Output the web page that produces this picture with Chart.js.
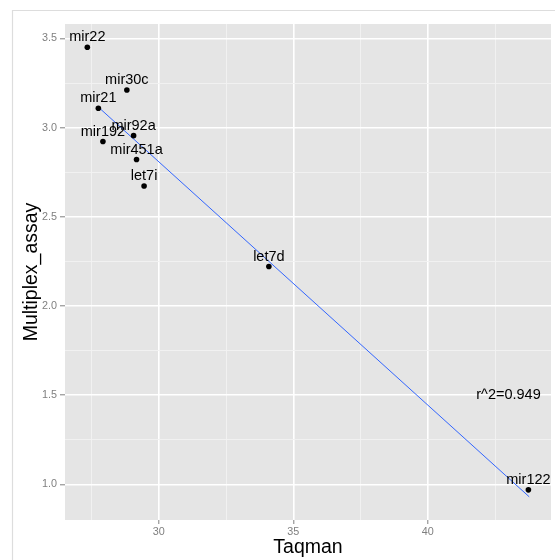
<!DOCTYPE html>
<html>
<head>
<meta charset="utf-8">
<style>
html,body{margin:0;padding:0;background:#ffffff;}
#wrap{width:555px;height:560px;position:relative;}
canvas{display:block;}
</style>
<script src="https://cdn.jsdelivr.net/npm/chart.js@4"></script>
</head>
<body>
<div id="wrap"><canvas id="c" width="555" height="560"></canvas></div>
<script>
// ---- data ----
const genes = ['mir22', 'mir30c', 'mir21', 'mir192', 'mir92a', 'mir451a', 'let7i', 'let7d', 'mir122'];
const taqman = [27.34, 28.81, 27.75, 27.92, 29.06, 29.17, 29.45, 34.09, 43.74];
const multiplex = [3.451, 3.211, 3.109, 2.922, 2.955, 2.821, 2.673, 2.221, 0.969];
// fitted regression line end points
const fitX = [27.75, 43.77];
const fitY = [3.115, 0.930];
// axis ticks
const xTicks = [30, 35, 40];
const xMinor = [27.5, 32.5, 37.5, 42.5];
const yTicks = [1.0, 1.5, 2.0, 2.5, 3.0, 3.5];
const yMinor = [1.25, 1.75, 2.25, 2.75, 3.25];
const xTitle = 'Taqman';
const yTitle = 'Multiplex_assay';
const annotText = 'r^2=0.949';
const annotX = [43.0];
const annotY = [1.5];

const FONT = '"Liberation Sans", Arial, Helvetica, sans-serif';
const isMajorX = v => xTicks.some(t => Math.abs(t - v) < 1e-6);
const isMajorY = v => yTicks.some(t => Math.abs(t - v) < 1e-6);

const decor = {
  id: 'decor',
  beforeDraw(chart) {
    const {ctx, chartArea: a} = chart;
    ctx.save();
    // outer frame
    ctx.strokeStyle = '#DDDDDD';
    ctx.lineWidth = 1.2;
    ctx.beginPath();
    ctx.moveTo(12.5, 560);
    ctx.lineTo(12.5, 10.5);
    ctx.lineTo(555, 10.5);
    ctx.stroke();
    // panel background
    ctx.fillStyle = '#E5E5E5';
    ctx.fillRect(a.left, a.top, a.right - a.left, a.bottom - a.top);
    ctx.restore();
  },
  afterDatasetsDraw(chart) {
    const {ctx} = chart;
    const xs = chart.scales.x, ys = chart.scales.y;
    ctx.save();
    ctx.fillStyle = '#000000';
    ctx.font = '14.5px ' + FONT;
    ctx.textAlign = 'center';
    ctx.textBaseline = 'middle';
    genes.forEach((g, i) => {
      const px = xs.getPixelForValue(taqman[i]);
      const py = ys.getPixelForValue(multiplex[i]);
      ctx.fillText(g, px, py - 10);
    });
    ctx.fillText(annotText, xs.getPixelForValue(annotX[0]), ys.getPixelForValue(annotY[0]));
    ctx.restore();
  },
  afterDraw(chart) {
    const {ctx, chartArea: a} = chart;
    ctx.save();
    ctx.fillStyle = '#000000';
    ctx.font = '19.5px ' + FONT;
    ctx.textAlign = 'center';
    ctx.textBaseline = 'middle';
    ctx.fillText(xTitle, (a.left + a.right) / 2, 548);
    ctx.translate(32, (a.top + a.bottom) / 2);
    ctx.rotate(-Math.PI / 2);
    ctx.fillText(yTitle, 0, 0);
    ctx.restore();
  }
};

new Chart(document.getElementById('c').getContext('2d'), {
  type: 'scatter',
  data: {
    datasets: [
      {
        type: 'line',
        data: fitX.map((x, i) => ({x: x, y: fitY[i]})),
        borderColor: '#3366FF',
        borderWidth: 1,
        pointRadius: 0,
        fill: false,
        order: 2
      },
      {
        data: taqman.map((x, i) => ({x: x, y: multiplex[i]})),
        backgroundColor: '#000000',
        borderColor: '#000000',
        pointRadius: 2.8,
        borderWidth: 0,
        order: 1
      }
    ]
  },
  options: {
    responsive: false,
    animation: false,
    devicePixelRatio: 1,
    layout: {padding: {left: 0, top: 24, right: 3, bottom: 0}},
    plugins: {legend: {display: false}, tooltip: {enabled: false}},
    scales: {
      x: {
        type: 'linear',
        min: 26.51,
        max: 44.58,
        afterBuildTicks: s => { s.ticks = [...xMinor, ...xTicks].sort((a, b) => a - b).map(v => ({value: v})); },
        afterFit: s => { s.height = 40; },
        border: {display: false},
        grid: {
          color: c => isMajorX(c.tick.value) ? '#FFFFFF' : '#F2F2F2',
          lineWidth: c => isMajorX(c.tick.value) ? 1.6 : 0.9,
          tickColor: c => isMajorX(c.tick.value) ? '#7F7F7F' : 'rgba(0,0,0,0)',
          tickLength: 4,
          tickWidth: 1,
          drawTicks: true
        },
        ticks: {
          color: '#7F7F7F',
          font: {family: FONT, size: 10.8},
          padding: 2,
          maxRotation: 0,
          autoSkip: false,
          callback: v => isMajorX(v) ? String(v) : ''
        }
      },
      y: {
        type: 'linear',
        min: 0.80,
        max: 3.581,
        afterBuildTicks: s => { s.ticks = [...yMinor, ...yTicks].sort((a, b) => a - b).map(v => ({value: v})); },
        afterFit: s => { s.width = 65; },
        border: {display: false},
        grid: {
          color: c => isMajorY(c.tick.value) ? '#FFFFFF' : '#F2F2F2',
          lineWidth: c => isMajorY(c.tick.value) ? 1.6 : 0.9,
          tickColor: c => isMajorY(c.tick.value) ? '#7F7F7F' : 'rgba(0,0,0,0)',
          tickLength: 5,
          tickWidth: 1,
          drawTicks: true
        },
        ticks: {
          color: '#7F7F7F',
          font: {family: FONT, size: 10.8},
          padding: 3,
          autoSkip: false,
          callback: v => isMajorY(v) ? Number(v).toFixed(1) : ''
        }
      }
    }
  },
  plugins: [decor]
});
</script>
</body>
</html>
